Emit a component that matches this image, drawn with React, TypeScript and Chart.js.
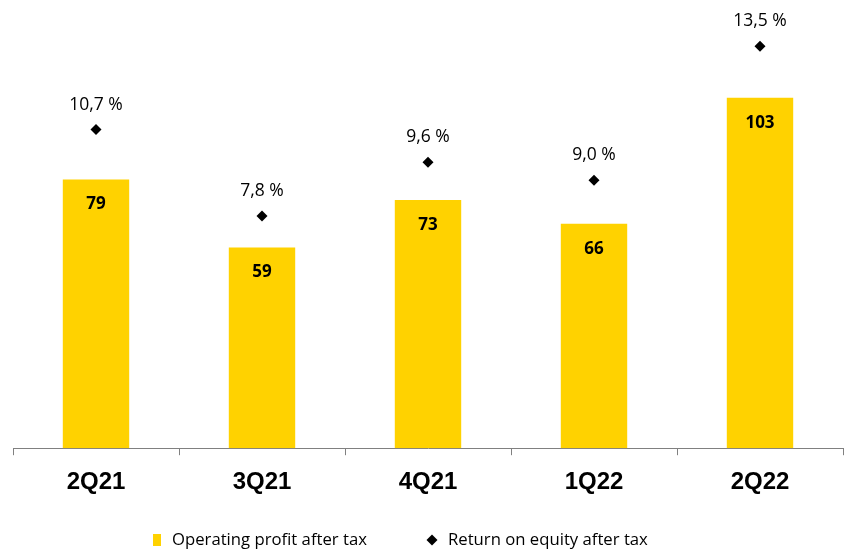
import React, { useEffect, useRef } from "react";
import { Chart, registerables } from "chart.js";

Chart.register(...registerables);

const categories = ["2Q21", "3Q21", "4Q21", "1Q22", "2Q22"];
const operatingProfit = [79, 59, 73, 66, 103];
const roe = [10.7, 7.8, 9.6, 9.0, 13.5];
const roeLabels = ["10,7 %", "7,8 %", "9,6 %", "9,0 %", "13,5 %"];
const seriesNames = ["Operating profit after tax", "Return on equity after tax"];

const YELLOW = "#FFD200";
const TEXT_FONT = '"Open Sans", sans-serif';

const labelPlugin = {
  id: "customLabels",
  afterDatasetsDraw(chart: any) {
    const ctx = chart.ctx;
    ctx.save();
    const barMeta = chart.getDatasetMeta(0);
    ctx.fillStyle = "#000";
    ctx.textAlign = "center";
    ctx.textBaseline = "middle";
    ctx.font = `bold 17px ${TEXT_FONT}`;
    barMeta.data.forEach((el: any, i: number) => {
      ctx.fillText(String(operatingProfit[i]), el.x, el.y + 25);
    });
    const pMeta = chart.getDatasetMeta(1);
    ctx.font = `17.5px ${TEXT_FONT}`;
    pMeta.data.forEach((el: any, i: number) => {
      ctx.fillText(roeLabels[i], el.x, el.y - 25);
    });
    ctx.restore();
  },
  afterDraw(chart: any) {
    const ctx = chart.ctx;
    ctx.save();
    ctx.font = `16.7px ${TEXT_FONT}`;
    ctx.textBaseline = "middle";
    ctx.textAlign = "left";
    const cy = 540;
    ctx.fillStyle = YELLOW;
    ctx.fillRect(153, cy - 6, 8, 12);
    ctx.fillStyle = "#000";
    ctx.fillText(seriesNames[0], 172, cy);
    ctx.beginPath();
    ctx.moveTo(432, cy - 5.5);
    ctx.lineTo(437.5, cy);
    ctx.lineTo(432, cy + 5.5);
    ctx.lineTo(426.5, cy);
    ctx.closePath();
    ctx.fill();
    ctx.fillText(seriesNames[1], 448, cy);
    ctx.restore();
  },
};

export default function App() {
  const canvasRef = useRef<HTMLCanvasElement>(null);
  useEffect(() => {
    if (!canvasRef.current) return;
    const chart = new Chart(canvasRef.current, {
      type: "bar",
      data: {
        labels: categories,
        datasets: [
          {
            type: "bar",
            label: seriesNames[0],
            data: operatingProfit,
            backgroundColor: YELLOW,
            borderWidth: 0,
            categoryPercentage: 1,
            barPercentage: 0.4,
            yAxisID: "y",
            order: 2,
          },
          {
            type: "line",
            label: seriesNames[1],
            data: roe,
            showLine: false,
            pointStyle: "rectRot",
            pointRadius: 5.5,
            pointBackgroundColor: "#000",
            pointBorderWidth: 0,
            borderColor: "#000",
            yAxisID: "y1",
            order: 1,
          } as any,
        ],
      },
      options: {
        animation: false,
        responsive: false,
        maintainAspectRatio: false,
        layout: { autoPadding: false, padding: { left: 13, right: 1, top: 6, bottom: 39 } },
        plugins: {
          legend: { display: false },
          tooltip: { enabled: false },
        },
        scales: {
          x: {
            offset: true,
            grid: {
              display: true,
              offset: true,
              drawOnChartArea: false,
              drawTicks: true,
              tickLength: 7,
              color: "#808080",
            },
            border: { display: true, color: "#808080", width: 1 },
            ticks: {
              color: "#000",
              padding: 13,
              font: { family: '"Liberation Sans", Arial, sans-serif', size: 24, weight: "bold" },
            },
          },
          y: { display: false, min: 0, max: 130 },
          y1: { display: false, min: 0, max: 14.85, position: "right" },
        },
      },
      plugins: [labelPlugin],
    });
    return () => chart.destroy();
  }, []);
  return (
    <div style={{ position: "fixed", left: 0, top: 0, width: 844, height: 549, background: "#fff" }}>
      <canvas ref={canvasRef} width={844} height={549} style={{ display: "block" }} />
    </div>
  );
}
